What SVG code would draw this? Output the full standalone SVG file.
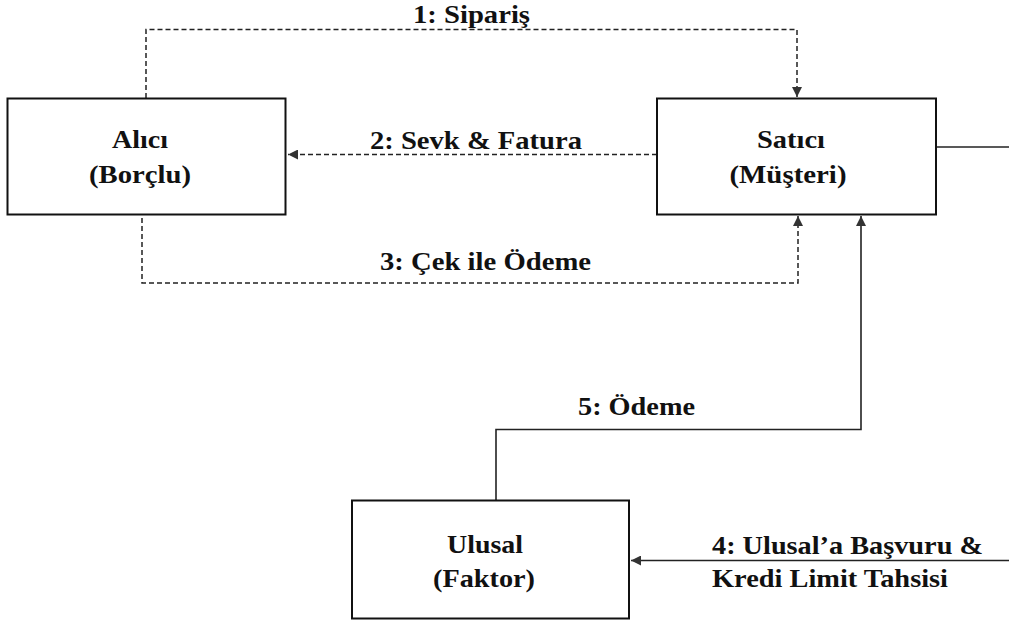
<svg xmlns="http://www.w3.org/2000/svg" width="1009" height="622" viewBox="0 0 1009 622">
<style>
.box{fill:#fff;stroke:#111;stroke-width:2}
.dash{fill:none;stroke:#222;stroke-width:1.5;stroke-dasharray:5,3}
.solid{fill:none;stroke:#222;stroke-width:1.6}
.c{text-anchor:middle}
</style>
<defs>
<marker id="ah" viewBox="0 0 10 10" refX="10" refY="5" markerWidth="10" markerHeight="10" markerUnits="userSpaceOnUse" orient="auto">
<path d="M0,0 L10,5 L0,10 Z" fill="#333"/>
</marker>
</defs>
<rect width="1009" height="622" fill="#fff"/>
<g id="connectors">
<path class="dash" d="M146,98 V29.5 H797 V97" marker-end="url(#ah)"/>
<path class="dash" d="M657,154.5 H288" marker-end="url(#ah)"/>
<path class="dash" d="M142,218 V283 H798 V216" marker-end="url(#ah)"/>
<path class="solid" d="M936,147 H1009"/>
<path class="solid" d="M496,500 V429.5 H861 V216" marker-end="url(#ah)"/>
<path class="solid" d="M1009,560.5 H631" marker-end="url(#ah)"/>
<text x="413" y="23" font-family="Liberation Serif" font-weight="bold" font-size="26" fill="#111" textLength="117" lengthAdjust="spacingAndGlyphs">1: Sipariş</text>
<text x="370" y="149" font-family="Liberation Serif" font-weight="bold" font-size="26" fill="#111" textLength="212" lengthAdjust="spacingAndGlyphs">2: Sevk &amp; Fatura</text>
<text x="380" y="270" font-family="Liberation Serif" font-weight="bold" font-size="26" fill="#111" textLength="211" lengthAdjust="spacingAndGlyphs">3: Çek ile Ödeme</text>
<text x="578" y="415" font-family="Liberation Serif" font-weight="bold" font-size="26" fill="#111" textLength="117" lengthAdjust="spacingAndGlyphs">5: Ödeme</text>
<text x="712" y="554" font-family="Liberation Serif" font-weight="bold" font-size="26" fill="#111" textLength="271" lengthAdjust="spacingAndGlyphs">4: Ulusal’a Başvuru &amp;</text>
<text x="712" y="587" font-family="Liberation Serif" font-weight="bold" font-size="26" fill="#111" textLength="236" lengthAdjust="spacingAndGlyphs">Kredi Limit Tahsisi</text>
</g>
<g id="alici">
<rect class="box" x="7.5" y="98.5" width="278" height="116"/>
<text class="c" x="140" y="148" font-family="Liberation Serif" font-weight="bold" font-size="26" fill="#111" textLength="56" lengthAdjust="spacingAndGlyphs">Alıcı</text>
<text class="c" x="140" y="183" font-family="Liberation Serif" font-weight="bold" font-size="26" fill="#111" textLength="102" lengthAdjust="spacingAndGlyphs">(Borçlu)</text>
</g>
<g id="satici">
<rect class="box" x="657" y="98.5" width="279" height="116"/>
<text class="c" x="791" y="148" font-family="Liberation Serif" font-weight="bold" font-size="26" fill="#111" textLength="68" lengthAdjust="spacingAndGlyphs">Satıcı</text>
<text class="c" x="788" y="183" font-family="Liberation Serif" font-weight="bold" font-size="26" fill="#111" textLength="117" lengthAdjust="spacingAndGlyphs">(Müşteri)</text>
</g>
<g id="ulusal">
<rect class="box" x="352" y="500.5" width="277" height="118"/>
<text class="c" x="485" y="553" font-family="Liberation Serif" font-weight="bold" font-size="26" fill="#111" textLength="76" lengthAdjust="spacingAndGlyphs">Ulusal</text>
<text class="c" x="484" y="587" font-family="Liberation Serif" font-weight="bold" font-size="26" fill="#111" textLength="102" lengthAdjust="spacingAndGlyphs">(Faktor)</text>
</g>
</svg>
